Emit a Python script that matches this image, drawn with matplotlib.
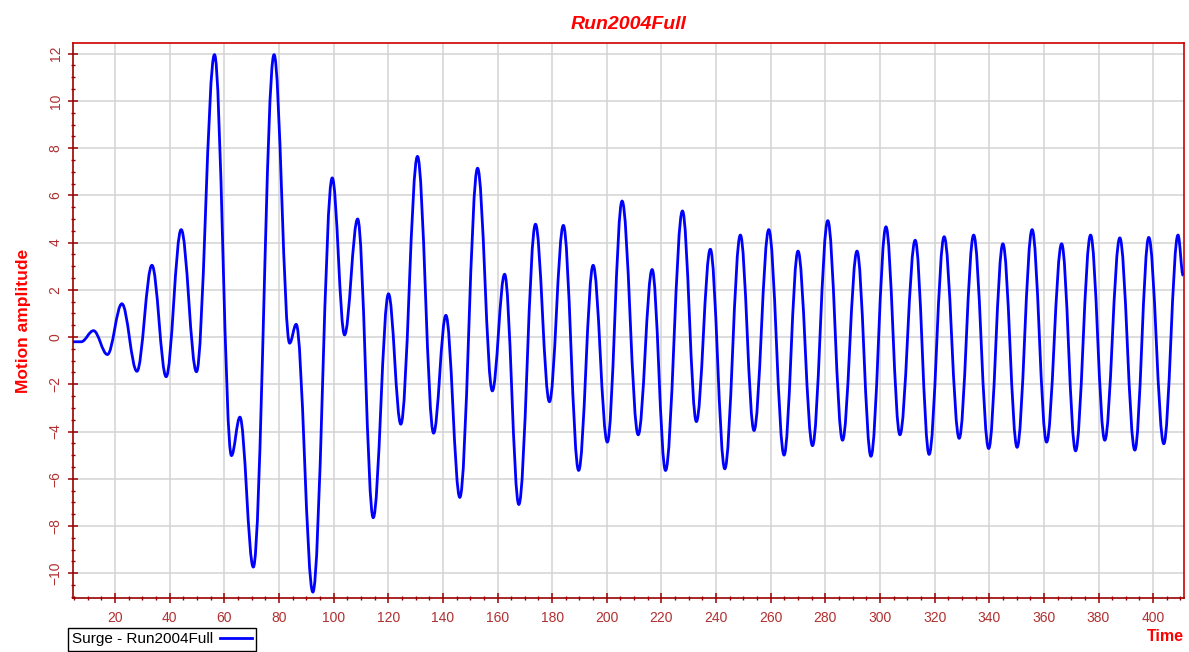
import matplotlib
matplotlib.use("Agg")
import matplotlib.pyplot as plt
from matplotlib.path import Path
from matplotlib.patches import PathPatch
from matplotlib.lines import Line2D
from matplotlib.ticker import MultipleLocator

plt.rcParams['font.family'] = ['Liberation Sans', 'DejaVu Sans']

# turning points of the surge record (time in s, motion amplitude)
time_s = [4.6, 7.6, 12.1, 17.2, 22.5, 28.0, 33.5, 38.7, 44.2, 49.8,
          56.4, 62.6, 65.7, 70.6, 78.2, 83.9, 86.3, 92.4, 99.5, 104.0,
          108.8, 114.5, 120.1, 124.6, 130.7, 136.6, 141.1, 146.2, 152.7, 158.1,
          162.6, 167.8, 173.9, 179.0, 184.1, 189.7, 195.0, 200.2, 205.6, 211.5,
          216.6, 221.5, 227.7, 232.8, 237.9, 243.2, 248.9, 253.9, 259.3, 264.9,
          270.0, 275.3, 280.9, 286.3, 291.6, 296.7, 302.2, 307.3, 312.9, 318.0,
          323.5, 329.0, 334.3, 339.8, 345.0, 350.2, 355.7, 361.0, 366.5, 371.6,
          377.1, 382.3, 387.8, 393.3, 398.4, 403.9, 409.1, 411.0]
surge = [-0.2, -0.2, 0.27, -0.74, 1.41, -1.45, 3.04, -1.68, 4.55, -1.47,
         11.96, -5.02, -3.39, -9.74, 11.96, -0.26, 0.54, -10.8, 6.74, 0.09,
         5.0, -7.65, 1.83, -3.69, 7.65, -4.07, 0.92, -6.79, 7.15, -2.28,
         2.66, -7.09, 4.78, -2.74, 4.73, -5.65, 3.04, -4.45, 5.76, -4.14,
         2.86, -5.65, 5.34, -3.58, 3.72, -5.58, 4.32, -3.96, 4.55, -5.0,
         3.64, -4.6, 4.93, -4.37, 3.64, -5.05, 4.67, -4.14, 4.1, -4.97,
         4.25, -4.29, 4.32, -4.72, 3.95, -4.67, 4.55, -4.45, 3.95, -4.82,
         4.32, -4.37, 4.2, -4.79, 4.22, -4.52, 4.32, 2.6]

title = 'Run2004Full'
series_name = 'Surge - Run2004Full'

dark_red = '#9B0000'
label_red = '#B03030'
line_blue = '#0000FF'

fig = plt.figure(figsize=(11.89, 6.52), dpi=100)
ax = fig.add_axes([0.0614, 0.0828, 0.9344, 0.8512])

# smooth curve through the turning points (flat tangent at each extreme)
k = 0.364
verts = [(time_s[0], surge[0])]
codes = [Path.MOVETO]
for t0, v0, t1, v1 in zip(time_s[:-1], surge[:-1], time_s[1:], surge[1:]):
    dt = t1 - t0
    verts += [(t0 + k * dt, v0), (t1 - k * dt, v1), (t1, v1)]
    codes += [Path.CURVE4] * 3
ax.add_patch(PathPatch(Path(verts, codes), fill=False, edgecolor=line_blue,
                       lw=2.0, joinstyle='round', zorder=3))

ax.set_xlim(4.6, 411.3)
ax.set_ylim(-11.05, 12.45)

ax.xaxis.set_major_locator(MultipleLocator(20))
ax.xaxis.set_minor_locator(MultipleLocator(5))
ax.yaxis.set_major_locator(MultipleLocator(2))
ax.yaxis.set_minor_locator(MultipleLocator(0.5))

ax.grid(True, which='major', color='#D3D3D3', lw=1.1)
ax.set_axisbelow(True)

for side in ['left', 'bottom']:
    ax.spines[side].set_color(dark_red)
    ax.spines[side].set_linewidth(1.2)
for side in ['top', 'right']:
    ax.spines[side].set_color('#CC0000')
    ax.spines[side].set_linewidth(1.2)

ax.tick_params(which='major', direction='inout', length=7, width=1.1,
               color=dark_red, labelcolor=label_red, labelsize=10)
ax.tick_params(which='minor', direction='inout', length=3.5, width=1.0,
               color=dark_red)
ax.tick_params(axis='x', pad=6)
ax.tick_params(axis='y', labelrotation=90, pad=4)
for lab in ax.get_yticklabels():
    lab.set_va('center')

ax.set_title(title, color='#FF0000', fontsize=14, fontweight='bold',
             fontstyle='italic', pad=10)
ax.set_ylabel('Motion amplitude', color='#FF0000', fontsize=12.5,
              fontweight='bold', labelpad=13)
fig.text(0.9958, 0.012, 'Time', color='#FF0000', fontsize=11.5,
         fontweight='bold', ha='right', va='bottom')

handle = Line2D([], [], color=line_blue, lw=2.0)
leg = fig.legend([handle], [series_name], loc='lower left',
                 bbox_to_anchor=(0.057, 0.002), markerfirst=False,
                 fancybox=False, frameon=True, edgecolor='black',
                 framealpha=1, fontsize=11, borderpad=0.3,
                 handlelength=2.1, handletextpad=0.4, borderaxespad=0)
leg.get_frame().set_linewidth(1.0)

fig.savefig('out.png', dpi=100, facecolor='white')
